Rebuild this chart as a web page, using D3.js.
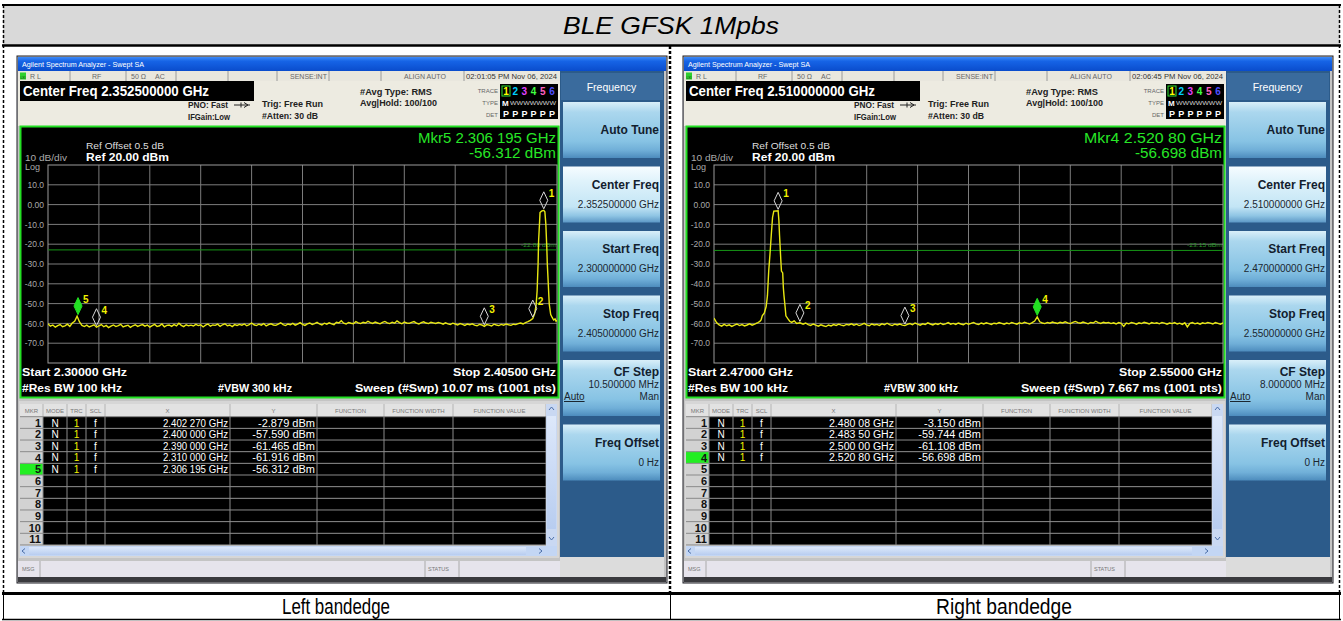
<!DOCTYPE html>
<meta charset="utf-8">
<style>
body{margin:0;background:#fff;}
svg{display:block}
text{font-family:"Liberation Sans",Arial,sans-serif;}
</style>
<svg id="chart" width="1343" height="621"></svg>
<script src="https://d3js.org/d3.v7.min.js"></script>
<script>
const titleText = 'BLE GFSK 1Mpbs'
const captions = ['Left bandedge', 'Right bandedge']

const yTicks = [10, 0, -10, -20, -30, -40, -50, -60, -70]
const yTickText = ['10.0', '0.00', '-10.0', '-20.0', '-30.0', '-40.0', '-50.0', '-60.0', '-70.0']

const spanGHz = [[2.300, 2.405], [2.470, 2.550]]
const centerText = ['2.352500000 GHz', '2.510000000 GHz']
const startText = ['Start 2.30000 GHz', 'Start 2.47000 GHz']
const stopText = ['Stop 2.40500 GHz', 'Stop 2.55000 GHz']
const sweepText = ['Sweep (#Swp)  10.07 ms (1001 pts)', 'Sweep (#Swp)  7.667 ms (1001 pts)']
const clockText = ['02:01:05 PM Nov 06, 2024', '02:06:45 PM Nov 06, 2024']
const displayLine = [-22.88, -23.15]
const displayLineText = ['-22.88 dBm', '-23.15 dBm']

const softKeys = ['Auto Tune', 'Center Freq', 'Start Freq', 'Stop Freq', 'CF Step', 'Freq Offset']
const softValuesLeft = ['', '2.352500000 GHz', '2.300000000 GHz', '2.405000000 GHz', '10.500000 MHz', '0 Hz']
const softValuesRight = ['', '2.510000000 GHz', '2.470000000 GHz', '2.550000000 GHz', '8.000000 MHz', '0 Hz']

// trace 1, left screen: noise every 0.5 MHz from 2.300 GHz, then the carrier
const leftNoise = [
  -60.2,-61.4,-60.8,-61.9,-61.1,-60.6,-61.7,-61.2,-60.4,-61.5,-59.8,-58.9,-56.4,-59.3,-61.0,-61.6,-60.9,-61.8,-61.3,-60.7,
  -61.9,-61.2,-60.6,-61.7,-61.0,-62.1,-61.4,-60.8,-61.6,-61.1,-60.5,-61.8,-61.3,-60.9,-62.0,-61.2,-60.7,-61.5,-61.0,-60.6,
  -61.4,-60.8,-61.9,-61.1,-60.5,-61.6,-61.2,-60.3,-61.7,-61.0,-60.8,-61.5,-60.6,-61.3,-59.9,-61.0,-61.6,-60.7,-61.2,-60.9,
  -61.3,-60.5,-61.1,-60.7,-61.8,-60.9,-60.3,-61.4,-60.8,-61.0,-60.4,-61.5,-60.7,-60.2,-61.2,-60.8,-61.6,-60.6,-61.0,-60.5,
  -60.9,-60.3,-61.2,-60.6,-59.8,-60.7,-61.1,-60.4,-60.9,-60.1,-61.3,-60.6,-60.2,-60.8,-61.0,-60.4,-59.7,-60.6,-61.1,-60.3,
  -60.7,-60.0,-60.9,-60.4,-59.6,-60.5,-61.0,-60.2,-59.8,-60.6,-60.1,-59.5,-60.3,-60.8,-59.9,-60.4,-59.7,-60.2,-60.6,-59.4,
  -59.8,-58.6,-59.9,-60.3,-59.5,-59.9,-60.2,-59.1,-59.7,-60.1,-59.4,-59.8,-58.9,-59.6,-60.0,-59.3,-59.8,-60.2,-59.5,-59.0,
  -59.7,-60.1,-59.4,-59.9,-58.7,-59.6,-60.2,-59.3,-59.8,-60.0,-59.5,-59.1,-59.9,-60.3,-59.6,-59.2,-59.8,-60.1,-59.4,-59.7,
  -60.0,-59.5,-59.9,-60.4,-59.7,-60.2,-60.6,-59.9,-60.3,-60.8,-60.1,-60.5,-61.0,-60.3,-60.7,-60.2,-60.9,-61.2,-60.5,-60.8,
  -61.5,-60.6,-60.9,-61.3,-60.4,-60.8,-61.1,-60.5,-60.9,-60.3,-60.7,-61.0,-60.4,-60.6,-60.1,-59.8,-60.3,-59.6,-59.1,-58.5
]
const leftPeak = [
  [2.4000,-57.6],[2.4004,-55.0],[2.4007,-50.5],[2.4009,-43.5],[2.4011,-30.0],[2.4012,-18.5],[2.4014,-9.0],
  [2.4015,-4.0],[2.4018,-3.3],[2.40227,-2.9],[2.4025,-3.6],[2.4027,-10.0],[2.4029,-22.0],[2.4030,-30.0],
  [2.4032,-40.0],[2.4034,-50.3],[2.4037,-55.5],[2.4040,-57.0],[2.4043,-58.3],[2.4046,-57.7],[2.4048,-58.9],[2.4050,-58.4]
]

// trace 1, right screen: noise every 0.4 MHz, carrier, more noise from 2.484 GHz
const rightNoiseA = [
  -57.3,-59.6,-60.8,-61.4,-60.5,-61.2,-60.7,-61.5,-60.9,-60.3,-61.1,-60.6,-61.3,-60.8,-60.2,-60.9,-60.4,-59.8,-59.0
]
const rightPeak = [
  [2.4774,-58.2],[2.4776,-56.0],[2.4779,-54.8],[2.4782,-51.5],[2.4784,-46.0],[2.4786,-33.5],[2.4788,-25.0],
  [2.4790,-15.5],[2.4792,-6.5],[2.4794,-3.3],[2.4798,-3.2],[2.48008,-3.15],[2.4802,-8.0],[2.4803,-15.5],
  [2.4805,-28.0],[2.4806,-33.6],[2.4808,-34.5],[2.4809,-42.0],[2.4810,-46.0],[2.4812,-52.5],[2.4813,-56.2],
  [2.4816,-57.6],[2.4819,-58.9],[2.4822,-59.5],[2.4826,-58.7],[2.4830,-60.0],[2.4835,-59.7]
]
const rightNoiseB = [
  -60.4,-59.8,-60.6,-61.0,-60.3,-60.9,-61.4,-60.7,-61.2,-61.6,-60.8,-61.3,-60.6,-61.0,-60.4,-60.9,-61.2,-60.5,-60.8,-60.2,
  -60.9,-60.4,-61.1,-60.6,-60.0,-60.7,-61.2,-60.3,-60.8,-60.5,-61.0,-60.2,-60.7,-59.9,-60.6,-61.1,-60.4,-60.8,-60.3,-60.9,
  -61.1,-60.5,-60.1,-60.7,-59.8,-60.4,-60.9,-60.2,-60.6,-59.7,-60.3,-60.8,-60.1,-60.5,-59.9,-60.6,-60.2,-59.6,-60.4,-60.0,
  -60.5,-59.8,-60.3,-60.7,-59.9,-60.4,-60.0,-59.5,-60.2,-60.6,-59.8,-60.3,-59.7,-60.1,-60.5,-59.9,-60.2,-59.6,-60.0,-60.4,
  -59.8,-60.2,-59.5,-60.0,-60.4,-59.7,-60.1,-59.4,-59.9,-60.3,-59.6,-58.8,-56.7,-59.2,-59.8,-60.1,-59.5,-59.9,-59.3,-59.7,
  -60.0,-59.4,-59.8,-59.2,-59.7,-60.1,-59.5,-59.0,-59.6,-59.9,-59.3,-59.7,-60.2,-59.5,-59.8,-58.9,-59.6,-60.0,-59.4,-59.8,
  -59.5,-60.1,-59.7,-60.3,-59.6,-60.0,-61.5,-59.8,-60.2,-59.5,-59.9,-60.4,-59.7,-60.1,-59.4,-59.8,-60.3,-59.6,-60.0,-59.7,
  -60.2,-59.5,-59.9,-60.4,-59.8,-60.1,-59.6,-60.3,-59.9,-60.5,-59.7,-61.8,-60.0,-59.6,-60.2,-59.8,-60.4,-59.7,-60.1,-59.5,
  -59.9,-60.3,-59.6,-60.0,-60.4,-59.8
]

// marker tables
const leftMkrFreq = [2.40227, 2.400, 2.390, 2.310, 2.306195]
const leftMkrLevel = [-2.879, -57.590, -61.465, -61.916, -56.312]
const leftMkrXText = ['2.402 270 GHz', '2.400 000 GHz', '2.390 000 GHz', '2.310 000 GHz', '2.306 195 GHz']
const leftMkrYText = ['-2.879 dBm', '-57.590 dBm', '-61.465 dBm', '-61.916 dBm', '-56.312 dBm']
const rightMkrFreq = [2.48008, 2.4835, 2.500, 2.5208]
const rightMkrLevel = [-3.150, -59.744, -61.108, -56.698]
const rightMkrXText = ['2.480 08 GHz', '2.483 50 GHz', '2.500 00 GHz', '2.520 80 GHz']
const rightMkrYText = ['-3.150 dBm', '-59.744 dBm', '-61.108 dBm', '-56.698 dBm']
const activeMkr = [5, 4]
const readout = [['Mkr5 2.306 195 GHz', '-56.312 dBm'], ['Mkr4 2.520 80 GHz', '-56.698 dBm']]

const screens = [
  {trace: leftNoise.map((v, i) => [2.300 + i * 0.0005, v]).concat(leftPeak),
   mkrF: leftMkrFreq, mkrL: leftMkrLevel, mkrX: leftMkrXText, mkrY: leftMkrYText, soft: softValuesLeft},
  {trace: rightNoiseA.map((v, i) => [2.470 + i * 0.0004, v]).concat(rightPeak)
     .concat(rightNoiseB.map((v, i) => [2.484 + i * 0.0004, v])),
   mkrF: rightMkrFreq, mkrL: rightMkrLevel, mkrX: rightMkrXText, mkrY: rightMkrYText, soft: softValuesRight}
]

// ---------- drawing ----------
const svg = d3.select('#chart')
const defs = svg.append('defs')

function grad(id, stops) {
  const lg = defs.append('linearGradient').attr('id', id).attr('x1', 0).attr('y1', 0).attr('x2', 0).attr('y2', 1)
  stops.forEach(s => lg.append('stop').attr('offset', s[0]).attr('stop-color', s[1]))
}
grad('xpbar', [[0, '#3d8af7'], [0.3, '#1664e6'], [1, '#0a4ccc']])
grad('key', [[0, '#d9eff9'], [0.18, '#abd7ee'], [0.7, '#87c3e4'], [0.86, '#70afd8'], [1, '#4d8cbd']])
grad('keySel', [[0, '#f6fcff'], [0.25, '#e0f3fb'], [0.72, '#c3e5f5'], [0.88, '#8fc5e4'], [1, '#5d98c6']])
grad('scroll', [[0, '#dde8fa'], [1, '#b8cdf0']])

function txt(g, x, y, s, o = {}) {
  const t = g.append('text').attr('x', x).attr('y', y).text(s)
    .attr('font-size', o.size || 10)
    .attr('fill', o.fill || '#000')
    .attr('text-anchor', o.anchor || 'start')
  if (o.weight) t.attr('font-weight', o.weight)
  if (o.italic) t.attr('font-style', 'italic')
  if (o.len) t.attr('textLength', o.len).attr('lengthAdjust', 'spacingAndGlyphs')
  if (o.under) t.attr('text-decoration', 'underline')
  return t
}
function line(g, x1, y1, x2, y2, stroke, w, dash) {
  const l = g.append('line').attr('x1', x1).attr('y1', y1).attr('x2', x2).attr('y2', y2)
    .attr('stroke', stroke).attr('stroke-width', w || 1)
  if (dash) l.attr('stroke-dasharray', dash)
  return l
}
function rect(g, x, y, w, h, fill, stroke) {
  const r = g.append('rect').attr('x', x).attr('y', y).attr('width', w).attr('height', h).attr('fill', fill)
  if (stroke) r.attr('stroke', stroke)
  return r
}

// report table around the screenshots
rect(svg, 3, 5, 1337, 40, '#d9d9d9')
txt(svg, 671, 34, titleText, {size: 24, italic: true, anchor: 'middle', len: 216})
line(svg, 2, 5, 1341, 5, '#000', 2)
line(svg, 2, 45.5, 1341, 45.5, '#000', 2.5)
line(svg, 2, 593.5, 1341, 593.5, '#000', 3)
line(svg, 2, 619.5, 1341, 619.5, '#000', 1.5)
line(svg, 3.5, 5, 3.5, 593, '#000', 1.5, '3,2')
line(svg, 1339.5, 5, 1339.5, 593, '#000', 1.5, '3,2')
line(svg, 670, 46, 670, 593, '#000', 2.5, '3,2')
line(svg, 3.5, 594, 3.5, 620, '#000', 1)
line(svg, 1339.5, 594, 1339.5, 620, '#000', 1)
line(svg, 670.5, 594, 670.5, 620, '#000', 1)
txt(svg, 336, 614, captions[0], {size: 22, anchor: 'middle', len: 108})
txt(svg, 1004, 614, captions[1], {size: 22, anchor: 'middle', len: 136})

function drawAnalyzer(k) {
  const S = screens[k]
  const g = svg.append('g').attr('transform', `translate(${k * 666},0)`)

  // window frame and title bar
  rect(g, 17, 56, 650, 527, '#c4c4c4', '#1c1c24')
  rect(g, 18, 57, 648, 14, 'url(#xpbar)')
  txt(g, 22, 67, 'Agilent Spectrum Analyzer - Swept SA', {size: 7.5, fill: '#fff', len: 122})

  // status line
  rect(g, 18, 71, 542, 10, '#e9e7de')
  ;[70, 126, 176, 228, 277, 329, 381, 464].forEach(xx => line(g, xx, 71, xx, 81, '#9a9a9a'))
  rect(g, 20, 72.5, 6, 7, '#2fd02f')
  txt(g, 20.5, 78.5, 'LXI', {size: 4, fill: '#103010', len: 5})
  const st = [[30, 'R L'], [92, 'RF'], [131, '50 Ω'], [155, 'AC'], [290, 'SENSE:INT'], [404, 'ALIGN AUTO']]
  st.forEach(s => txt(g, s[0], 78.5, s[1], {size: 7, fill: '#666'}))
  txt(g, 466, 78.5, clockText[k], {size: 7, fill: '#333', len: 91})

  // setup area
  rect(g, 18, 81, 542, 45, '#edebe1')
  rect(g, 20, 81, 234, 20, '#000')
  txt(g, 23, 96, 'Center Freq ' + centerText[k], {size: 14, weight: 'bold', fill: '#fff', len: 186})
  txt(g, 188, 108, 'PNO: Fast', {size: 8.5, weight: 'bold', fill: '#222', len: 40})
  g.append('path').attr('d', 'M234,105 h16 M244,102.5 l4,2.5 l-4,2.5 M241,102.5 v5').attr('stroke', '#222').attr('fill', 'none')
  txt(g, 188, 120, 'IFGain:Low', {size: 8.5, weight: 'bold', fill: '#222', len: 42})
  txt(g, 262, 107, 'Trig: Free Run', {size: 9.5, weight: 'bold', fill: '#222', len: 61})
  txt(g, 262, 119, '#Atten: 30 dB', {size: 9.5, weight: 'bold', fill: '#222', len: 56})
  txt(g, 360, 95, '#Avg Type: RMS', {size: 9.5, weight: 'bold', fill: '#222', len: 72})
  txt(g, 360, 106, 'Avg|Hold: 100/100', {size: 9.5, weight: 'bold', fill: '#222', len: 77})
  txt(g, 498, 93, 'TRACE', {size: 6, fill: '#666', anchor: 'end'})
  txt(g, 498, 105, 'TYPE', {size: 6, fill: '#666', anchor: 'end'})
  txt(g, 498, 117, 'DET', {size: 6, fill: '#666', anchor: 'end'})
  rect(g, 500, 84, 58, 35, '#000')
  rect(g, 502, 86, 8, 10, 'none', '#30e030')
  const trc = ['#ffff00', '#00d0ff', '#e040ff', '#40ff40', '#ff60c0', '#5050ff']
  trc.forEach((c, i) => txt(g, 506 + i * 9.2, 95, String(i + 1), {size: 10, weight: 'bold', fill: c, anchor: 'middle'}))
  txt(g, 502, 106, 'M', {size: 8, weight: 'bold', fill: '#fff'})
  txt(g, 510, 105, 'WWWWWWW', {size: 5, fill: '#ccc', len: 46})
  'PPPPPP'.split('').forEach((p, i) => txt(g, 506 + i * 9.2, 117, p, {size: 9, weight: 'bold', fill: '#fff', anchor: 'middle'}))

  // display area
  rect(g, 20.5, 126.5, 538, 271, '#000').attr('stroke', '#22e022').attr('stroke-width', 2)
  const x = d3.scaleLinear().domain(spanGHz[k]).range([48, 557])
  const y = d3.scaleLinear().domain([-80, 20]).range([363, 165])
  const grid = g.append('g')
  yTicks.forEach(v => line(grid, 48, y(v), 557, y(v), '#7c7c7c'))
  d3.range(1, 10).forEach(i => {
    const xx = x(spanGHz[k][0] + i * (spanGHz[k][1] - spanGHz[k][0]) / 10)
    line(grid, xx, 165, xx, 363, '#7c7c7c')
  })
  rect(grid, 48, 165, 509, 198, 'none', '#9c9c9c')

  const yAxis = d3.axisLeft(y).tickValues(yTicks).tickFormat((d, i) => yTickText[i]).tickSize(0).tickPadding(2)
  g.append('g').attr('transform', 'translate(46,0)').call(yAxis)
    .call(a => a.select('.domain').remove())
    .selectAll('text').attr('fill', '#a8a8a8').attr('font-size', 8.5)
    .attr('font-family', '"Liberation Sans",Arial,sans-serif')

  txt(g, 86, 149, 'Ref Offset 0.5 dB', {size: 9, fill: '#ddd', len: 78})
  txt(g, 86, 161, 'Ref 20.00 dBm', {size: 11, weight: 'bold', fill: '#fff', len: 83})
  txt(g, 25, 161, '10 dB/div', {size: 9, fill: '#aaa', len: 42})
  txt(g, 25, 170, 'Log', {size: 9, fill: '#aaa'})
  txt(g, 556, 143, readout[k][0], {size: 14, fill: '#27e627', anchor: 'end', len: 138})
  txt(g, 556, 158, readout[k][1], {size: 14, fill: '#27e627', anchor: 'end', len: 87})

  // display line
  line(g, 48, y(displayLine[k]), 557, y(displayLine[k]), '#169616')
  txt(g, 556, y(displayLine[k]) - 3, displayLineText[k], {size: 6, fill: '#2a9a2a', anchor: 'end', len: 35})

  // trace
  g.append('clipPath').attr('id', 'clip' + k).append('rect').attr('x', 48).attr('y', 165).attr('width', 509).attr('height', 198)
  g.append('path').datum(S.trace)
    .attr('clip-path', `url(#clip${k})`)
    .attr('d', d3.line().x(d => x(d[0])).y(d => y(d[1])))
    .attr('fill', 'none').attr('stroke', '#e8e812').attr('stroke-width', 1.4)

  // markers
  S.mkrF.forEach((f, i) => {
    const mx = x(f), my = y(S.mkrL[i]) - 1.5
    const on = (i + 1) === activeMkr[k]
    g.append('path').attr('d', `M${mx},${my} l4,-8.5 l-4,-8.5 l-4,8.5 z`)
      .attr('fill', on ? '#22e022' : 'none').attr('stroke', on ? '#22e022' : '#d8d8d8').attr('stroke-width', 1)
    txt(g, mx + 5, my - 12, String(i + 1), {size: 10, weight: 'bold', fill: '#f2f200'})
  })

  // lower annotation
  txt(g, 22, 376, startText[k], {size: 11, weight: 'bold', fill: '#fff', len: 105})
  txt(g, 556, 376, stopText[k], {size: 11, weight: 'bold', fill: '#fff', anchor: 'end', len: 103})
  txt(g, 22, 392, '#Res BW 100 kHz', {size: 11, weight: 'bold', fill: '#fff', len: 100})
  txt(g, 218, 392, '#VBW 300 kHz', {size: 11, weight: 'bold', fill: '#fff', len: 74})
  txt(g, 556, 392, sweepText[k], {size: 11, weight: 'bold', fill: '#fff', anchor: 'end', len: 201})

  // marker table
  const cols = [[20, 43], [43, 67], [67, 86], [86, 105], [105, 230], [230, 317], [317, 384], [384, 453], [453, 546]]
  const heads = ['MKR', 'MODE', 'TRC', 'SCL', 'X', 'Y', 'FUNCTION', 'FUNCTION WIDTH', 'FUNCTION VALUE']
  rect(g, 19, 401, 540, 157, '#d6d6d6')
  rect(g, 20, 404, 537, 12, '#e2e2e2')
  cols.forEach((c, i) => {
    txt(g, (c[0] + c[1]) / 2, 413, heads[i], {size: 6, fill: '#777', anchor: 'middle'})
    line(g, c[1], 404, c[1], 416, '#b4b4b4')
  })
  const rowH = 11.66, row0 = 416.7
  d3.range(11).forEach(r => {
    const ry = row0 + r * rowH
    rect(g, 20, ry, 23, rowH, (r + 1) === activeMkr[k] ? '#22ee22' : '#d2d2d2')
    rect(g, 43, ry, 503, rowH, '#000')
    txt(g, 41, ry + 10, String(r + 1), {size: 11, weight: 'bold', fill: '#111', anchor: 'end'})
    if (r < S.mkrF.length) {
      txt(g, 55, ry + 9.8, 'N', {size: 10, fill: '#fff', anchor: 'middle'})
      txt(g, 76.5, ry + 9.8, '1', {size: 10, fill: '#f0f000', anchor: 'middle'})
      txt(g, 95.5, ry + 9.8, 'f', {size: 10, fill: '#fff', anchor: 'middle'})
      txt(g, 228, ry + 9.8, S.mkrX[r], {size: 10, fill: '#fff', anchor: 'end', len: 65})
      txt(g, 315, ry + 9.8, S.mkrY[r], {size: 10, fill: '#fff', anchor: 'end', len: S.mkrY[r].length * 5.7})
    }
  })
  d3.range(12).forEach(r => line(g, 20, row0 + r * rowH, 546, row0 + r * rowH, '#8a8a8a'))
  cols.forEach(c => line(g, c[1], row0, c[1], row0 + 11 * rowH, '#8a8a8a'))
  // scroll bars
  rect(g, 546, 404, 11, 142, '#c9d8f2')
  rect(g, 547, 416, 9, 113, 'url(#scroll)')
  g.append('path').attr('d', 'M549,410 l2.5,-3 l2.5,3 M549,537 l2.5,3 l2.5,-3').attr('stroke', '#4a6ea8').attr('fill', 'none')
  rect(g, 20, 546, 537, 10, '#c3d6f4')
  rect(g, 29, 547, 497, 8, 'url(#scroll)')
  g.append('path').attr('d', 'M25,548.5 l-3,2.5 l3,2.5 M539,548.5 l3,2.5 l-3,2.5').attr('stroke', '#4a6ea8').attr('fill', 'none')

  // message line
  rect(g, 18, 561, 542, 16, '#e6e4ec')
  line(g, 40, 561, 40, 577, '#aaa')
  line(g, 425, 561, 425, 577, '#aaa')
  line(g, 459, 561, 459, 577, '#aaa')
  txt(g, 22, 571, 'MSG', {size: 5.5, fill: '#777'})
  txt(g, 428, 571, 'STATUS', {size: 5.5, fill: '#777'})
  rect(g, 18, 577, 648, 5, '#3a3a3e')

  // soft keys
  rect(g, 560, 71, 104, 486, '#2c5b8a')
  rect(g, 561, 73, 102, 27, '#3a6b9d')
  txt(g, 611.5, 91, 'Frequency', {size: 10.5, fill: '#fff', anchor: 'middle'})
  softKeys.forEach((name, i) => {
    const top = 102 + i * 64.5
    rect(g, 563, top, 97, 56, i === 1 ? 'url(#keySel)' : 'url(#key)')
    if (i === 0) {
      txt(g, 659, top + 32, name, {size: 12, weight: 'bold', fill: '#12202e', anchor: 'end'})
    } else if (i === 4) {
      txt(g, 659, top + 16, name, {size: 12, weight: 'bold', fill: '#12202e', anchor: 'end'})
      txt(g, 659, top + 28, S.soft[i], {size: 10, fill: '#1a2630', anchor: 'end'})
      txt(g, 564, top + 40, 'Auto', {size: 10, fill: '#1a2630', under: true})
      txt(g, 659, top + 40, 'Man', {size: 10, fill: '#1a2630', anchor: 'end'})
    } else {
      txt(g, 659, top + 22, name, {size: 12, weight: 'bold', fill: '#12202e', anchor: 'end'})
      txt(g, 659, top + 41, S.soft[i], {size: 10, fill: '#1a2630', anchor: 'end'})
    }
  })
  rect(g, 560, 557, 104, 20, '#dcdcdc')
}

drawAnalyzer(0)
drawAnalyzer(1)
</script>
